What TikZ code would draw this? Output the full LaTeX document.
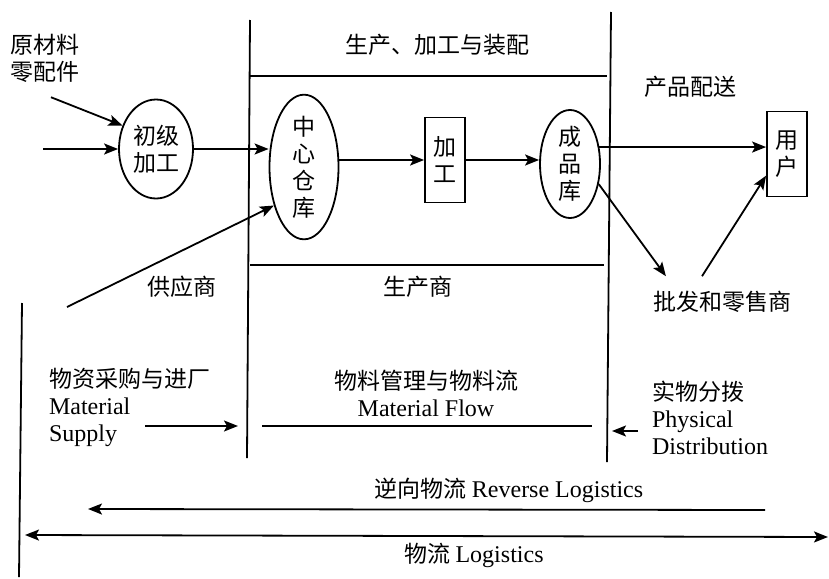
\documentclass[tikz,border=0pt]{standalone}
\usepackage{fontspec}
\setmainfont{Liberation Serif}
\newfontfamily\cjk{Noto Sans CJK SC}
\usetikzlibrary{arrows.meta,shapes.geometric}

\begin{document}
\begin{tikzpicture}[x=0.5pt, y=-0.5pt,
		every node/.style={font=\cjk\fontsize{11.5}{13.5}\selectfont},
		ell/.style={ellipse, draw=black, line width=0.9pt, inner sep=0pt, align=center},
		stockbox/.style={rectangle, draw=black, line width=0.9pt, inner sep=0pt, align=center, minimum width=20pt, minimum height=42.5pt},
		arr/.style={line width=0.9pt, -{Stealth[length=7pt, width=5.5pt, inset=1.5pt]}},
		biarr/.style={line width=0.9pt, {Stealth[length=7pt, width=5.5pt, inset=1.5pt]}-{Stealth[length=7pt, width=5.5pt, inset=1.5pt]}},
		rule/.style={line width=0.9pt}]
				\useasboundingbox (0,0) rectangle (829,578);

				% sections
				\coordinate (pTop) at (250,20);
				\coordinate (pBot) at (247,458);
				\coordinate (dTop) at (611,12);
				\coordinate (dBot) at (607,462);
				\coordinate (lTop) at (22,303);
				\coordinate (lBot) at (19,577);
				\draw[rule] (pTop) -- (pBot);
				\draw[rule] (dTop) -- (dBot);
				\draw[rule] (lTop) -- (lBot);
				\draw[rule] (250,76) -- (607,76);
				\draw[rule] (250,265) -- (604,265);

				% stations
				\node[ell, minimum width=37pt, minimum height=49.5pt] (chuji) at (156,149) {初级\\加工};
				\node[ell, minimum width=34.5pt, minimum height=67pt] (zhongxin) at (304,167) {中\\心\\仓\\库};
				\node[stockbox] (jiagong) at (445,160) {加\\工};
				\node[ell, minimum width=30pt, minimum height=54pt] (chengpin) at (570,164) {成\\品\\库};
				\node[stockbox] (yonghu) at (787,154) {用\\户};

				% labels
				\node (scjg) at (437,45) {生产、加工与装配};
				\node[align=left] (ycl) at (45,58) {原材料\\零配件};
				\node (cpps) at (690,87) {产品配送};
				\node (gys) at (182,287) {供应商};
				\node (scs) at (418,287) {生产商};
				\node (pifa) at (722,302) {批发和零售商};
				\node[anchor=west, align=left] (wzcg) at (42,407) {物资采购与进厂\\{\rmfamily\fontsize{12}{13.5}\selectfont Material}\\{\rmfamily\fontsize{12}{13.5}\selectfont Supply}};
				\node[align=center] (wlgl) at (426,393) {物料管理与物料流\\{\rmfamily\fontsize{12}{13.5}\selectfont Material Flow}};
				\node[anchor=west, align=left] (swfb) at (645,418) {实物分拨\\{\rmfamily\fontsize{12}{13.5}\selectfont Physical}\\{\rmfamily\fontsize{12}{13.5}\selectfont Distribution}};
				\node (nxwl) at (509,490) {逆向物流 {\rmfamily\fontsize{12}{13.5}\selectfont Reverse Logistics}};
				\node (wl) at (474,555) {物流 {\rmfamily\fontsize{12}{13.5}\selectfont Logistics}};

				% flows
				\coordinate (inflow) at (43,149);
				\coordinate (gysStart) at (67,307);
				\draw[arr] ([xshift=3pt, yshift=-4pt]ycl.south) -- (chuji.145);
				\draw[arr] (inflow) -- (chuji.west);
				\draw[arr] (chuji.east) -- (chuji.east -| zhongxin.west);
				\draw[arr] (gysStart) -- (zhongxin.232);
				\draw[arr] (jiagong.west -| zhongxin.east) -- (jiagong.west);
				\draw[arr] (jiagong.east) -- (jiagong.east -| chengpin.west);
				\draw[arr] (chengpin.30) -- (chengpin.30 -| yonghu.west);
				\draw[arr] (chengpin.-35) -- ([xshift=10pt, yshift=4pt]pifa.north west);
				\draw[arr] ([xshift=-10pt, yshift=4pt]pifa.north) -- (yonghu.-134);

				% bottom flows
				\coordinate (msStart) at (145,426);
				\coordinate (msEnd) at (238,426);
				\coordinate (mfStart) at (262,426);
				\coordinate (mfEnd) at (592,426);
				\coordinate (pdStart) at (638,431);
				\coordinate (pdEnd) at (612,431);
				\coordinate (rlStart) at (765,510);
				\coordinate (rlEnd) at (88,509);
				\coordinate (lgLeft) at (25,535);
				\coordinate (lgRight) at (828,537);
				\draw[arr] (msStart) -- (msEnd);
				\draw[rule] (mfStart) -- (mfEnd);
				\draw[arr] (pdStart) -- (pdEnd);
				\draw[arr] (rlStart) -- (rlEnd);
				\draw[biarr] (lgLeft) -- (lgRight);
			\end{tikzpicture}
\end{document}
